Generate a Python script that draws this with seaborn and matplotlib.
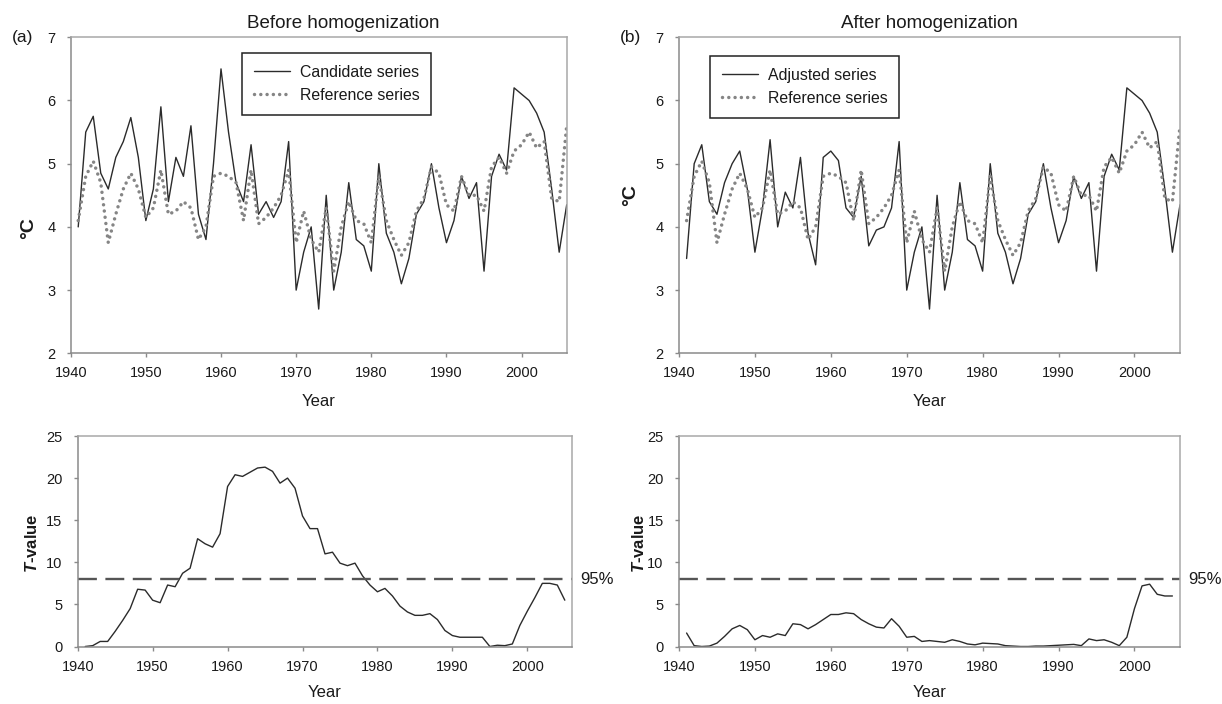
import matplotlib
matplotlib.use("Agg")
import matplotlib.pyplot as plt
import numpy as np
import pandas as pd
import seaborn as sns

# ---------------------------------------------------------------- data
years = list(range(1941, 2007))

candidate = [4.0, 5.5, 5.75, 4.85, 4.6, 5.1, 5.35, 5.73, 5.1, 4.1,
             4.6, 5.9, 4.4, 5.1, 4.8, 5.6, 4.2, 3.8, 5.0, 6.5,
             5.5, 4.7, 4.4, 5.3, 4.2, 4.4, 4.15, 4.4, 5.35, 3.0,
             3.6, 4.0, 2.7, 4.5, 3.0, 3.6, 4.7, 3.8, 3.7, 3.3,
             5.0, 3.9, 3.6, 3.1, 3.5, 4.2, 4.4, 5.0, 4.3, 3.75,
             4.1, 4.8, 4.45, 4.7, 3.3, 4.8, 5.15, 4.9, 6.2, 6.1,
             6.0, 5.8, 5.5, 4.6, 3.6, 4.35]

adjusted = [3.5, 5.0, 5.3, 4.4, 4.2, 4.7, 5.0, 5.2, 4.6, 3.6,
            4.3, 5.38, 4.0, 4.55, 4.3, 5.1, 3.9, 3.4, 5.1, 5.2,
            5.05, 4.3, 4.15, 4.8, 3.7, 3.95, 4.0, 4.3, 5.35, 3.0,
            3.6, 4.0, 2.7, 4.5, 3.0, 3.6, 4.7, 3.8, 3.7, 3.3,
            5.0, 3.9, 3.6, 3.1, 3.5, 4.2, 4.4, 5.0, 4.3, 3.75,
            4.1, 4.8, 4.45, 4.7, 3.3, 4.8, 5.15, 4.9, 6.2, 6.1,
            6.0, 5.8, 5.5, 4.6, 3.6, 4.35]

reference = [4.1, 4.8, 5.04, 4.7, 3.75, 4.2, 4.6, 4.85, 4.6, 4.15,
             4.3, 4.9, 4.2, 4.25, 4.4, 4.3, 3.8, 4.0, 4.8, 4.85,
             4.8, 4.7, 4.1, 4.9, 4.05, 4.15, 4.3, 4.5, 4.9, 3.75,
             4.25, 3.8, 3.6, 4.3, 3.3, 4.0, 4.4, 4.1, 4.05, 3.75,
             4.8, 4.1, 3.8, 3.55, 3.75, 4.25, 4.45, 4.95, 4.85, 4.35,
             4.25, 4.8, 4.5, 4.5, 4.25, 4.95, 5.1, 4.85, 5.2, 5.3,
             5.5, 5.25, 5.35, 4.45, 4.4, 5.6]

t_years = list(range(1941, 2006))

t_before = [0.0, 0.1, 0.6, 0.6, 1.8, 3.1, 4.5, 6.8, 6.7, 5.5,
            5.2, 7.3, 7.1, 8.7, 9.3, 12.8, 12.2, 11.8, 13.4, 19.0,
            20.4, 20.2, 20.7, 21.2, 21.3, 20.8, 19.4, 20.0, 18.8, 15.5,
            14.0, 14.0, 11.0, 11.2, 9.9, 9.6, 9.9, 8.4, 7.3, 6.5,
            6.9, 6.0, 4.8, 4.1, 3.7, 3.7, 3.9, 3.2, 1.9, 1.3,
            1.1, 1.1, 1.1, 1.1, 0.0, 0.15, 0.1, 0.3, 2.5, 4.2,
            5.8, 7.5, 7.5, 7.3, 5.5]

t_after = [1.6, 0.1, 0.0, 0.05, 0.4, 1.2, 2.1, 2.5, 2.0, 0.8,
           1.3, 1.1, 1.5, 1.3, 2.7, 2.6, 2.1, 2.6, 3.2, 3.8,
           3.8, 4.0, 3.9, 3.2, 2.7, 2.3, 2.2, 3.3, 2.4, 1.1,
           1.2, 0.6, 0.7, 0.6, 0.5, 0.8, 0.6, 0.3, 0.2, 0.4,
           0.35, 0.3, 0.1, 0.05, 0.0, 0.0, 0.05, 0.05, 0.1, 0.15,
           0.2, 0.25, 0.1, 0.9, 0.7, 0.8, 0.5, 0.1, 1.1, 4.5,
           7.2, 7.4, 6.2, 6.0, 6.0]

critical_value = 8.0
critical_label = "95%"

# ---------------------------------------------------------------- style
sns.set_theme(style="white")
plt.rcParams["font.family"] = ["Liberation Sans", "DejaVu Sans"]
plt.rcParams["mathtext.fontset"] = "custom"
plt.rcParams["mathtext.it"] = "Liberation Sans:italic:bold"
plt.rcParams["mathtext.rm"] = "Liberation Sans:bold"
plt.rcParams["mathtext.bf"] = "Liberation Sans:bold"

TEXT = "#1a1a1a"
SOLID = "#2b2b2b"
DOTTED = "#858585"
DASH = "#555555"
DOT_STYLE = (0, (0.01, 1.8))

fig = plt.figure(figsize=(12.22, 7.04), dpi=100)
W, H = 1222.0, 704.0


def axes_px(left, top, right, bottom):
    return fig.add_axes([left / W, 1 - bottom / H, (right - left) / W, (bottom - top) / H])


def style_axes(ax):
    for side in ("left", "bottom"):
        ax.spines[side].set_color("#8a8a8a")
        ax.spines[side].set_linewidth(1.1)
    for side in ("top", "right"):
        ax.spines[side].set_color("#a8a8a8")
        ax.spines[side].set_linewidth(1.1)
    ax.tick_params(axis="both", which="major", direction="out", length=3, width=1.0,
                   color="#8a8a8a", labelsize=10.5, labelcolor=TEXT,
                   bottom=True, left=True, top=False, right=False)
    ax.tick_params(axis="y", pad=8)
    ax.tick_params(axis="x", pad=6.5)
    ax.set_xlim(1940, 2006)
    ax.set_xticks(range(1940, 2001, 10))
    ax.grid(False)


ax_a = axes_px(70.7, 37.3, 566.7, 353.3)
ax_b = axes_px(679.0, 37.3, 1180.0, 353.3)
ax_c = axes_px(77.7, 436.0, 572.3, 646.5)
ax_d = axes_px(679.0, 436.0, 1180.0, 646.5)

series_top = [
    (ax_a, candidate, "Candidate series", "Before homogenization", "(a)", -0.068, 0.397, 0.549),
    (ax_b, adjusted, "Adjusted series", "After homogenization", "(b)", -0.080, 0.5, 0.5),
]

for ax, main, main_label, title, tag, ylab_x, ylab_y, title_x in series_top:
    df_main = pd.DataFrame({"Year": years, "value": main})
    df_ref = pd.DataFrame({"Year": years, "value": reference})
    sns.lineplot(data=df_main, x="Year", y="value", ax=ax, color=SOLID, lw=1.0,
                 estimator=None, label=main_label)
    sns.lineplot(data=df_ref, x="Year", y="value", ax=ax, color=DOTTED, lw=2.5,
                 linestyle=DOT_STYLE, dash_capstyle="round", estimator=None,
                 label="Reference series")
    style_axes(ax)
    ax.set_ylim(2, 7)
    ax.set_yticks(range(2, 8))
    ax.set_xlabel("Year", fontsize=12, color=TEXT, labelpad=10)
    ax.set_ylabel("°C", fontsize=14, fontweight="bold", color=TEXT)
    ax.yaxis.set_label_coords(ylab_x, ylab_y)
    ax.text(title_x, 1.045, title, transform=ax.transAxes, ha="center", va="center",
            fontsize=13.5, color=TEXT)
    ax.text(-0.076, 1.0, tag, transform=ax.transAxes, ha="right", va="center",
            fontsize=12.5, color=TEXT)

legend_kw = dict(loc="upper left", bbox_transform=fig.transFigure, frameon=True,
                 fancybox=False, edgecolor="#222222", framealpha=1, fontsize=11.4,
                 handlelength=2.3, borderpad=0.75, labelspacing=0.5,
                 handletextpad=0.6, borderaxespad=0)
leg_a = ax_a.legend(bbox_to_anchor=(242 / W, 1 - 53 / H), **legend_kw)
leg_b = ax_b.legend(bbox_to_anchor=(710 / W, 1 - 56 / H), **legend_kw)
for leg in (leg_a, leg_b):
    leg.get_frame().set_linewidth(1.1)
    for txt in leg.get_texts():
        txt.set_color(TEXT)

for ax, tvals, ylab_x in ((ax_c, t_before, -0.076), (ax_d, t_after, -0.064)):
    df_t = pd.DataFrame({"Year": t_years, "T": tvals})
    sns.lineplot(data=df_t, x="Year", y="T", ax=ax, color=SOLID, lw=1.0, estimator=None)
    ax.axhline(critical_value, color=DASH, lw=1.7, linestyle=(0, (8, 3.6)))
    style_axes(ax)
    ax.set_ylim(0, 25)
    ax.set_yticks(range(0, 26, 5))
    ax.set_xlabel("Year", fontsize=12, color=TEXT, labelpad=8)
    ax.set_ylabel(r"$\mathit{T}$-value", fontsize=12, fontweight="bold", color=TEXT)
    ax.yaxis.set_label_coords(ylab_x, 0.49)
    ax.text(1.017, critical_value, critical_label, transform=ax.get_yaxis_transform(),
            ha="left", va="center", fontsize=12, color=TEXT)

fig.savefig("out.png", dpi=100)
